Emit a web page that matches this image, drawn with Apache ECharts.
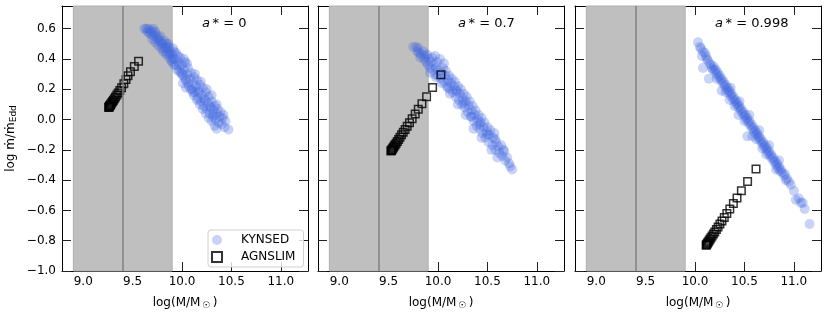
<!DOCTYPE html>
<html><head><meta charset="utf-8">
<script src="https://cdn.jsdelivr.net/npm/echarts@6/dist/echarts.min.js"></script>
<style>html,body{margin:0;padding:0;background:#fff}#c{width:829px;height:315px}</style>
</head><body><div id="c"></div>
<script>
// ---- data ----
const spinValues = ['0', '0.7', '0.998'];
const xTicks = [9.0, 9.5, 10.0, 10.5, 11.0];
const yTicks = [-1.0, -0.8, -0.6, -0.4, -0.2, 0.0, 0.2, 0.4, 0.6];
const shadeRange = [8.9, 9.9];
const shadeLine = 9.4;

const kynsed0 = [[9.62,0.60],[9.64,0.60],[9.66,0.60],[9.65,0.58],[9.67,0.57],[9.68,0.59],[9.69,0.56],[9.70,0.58],[9.70,0.53],[9.72,0.55],[9.73,0.51],[9.74,0.56],[9.75,0.53],[9.76,0.49],[9.77,0.52],[9.78,0.55],[9.79,0.47],[9.80,0.50],[9.81,0.45],[9.82,0.52],[9.83,0.48],[9.84,0.43],[9.85,0.47],[9.86,0.50],[9.87,0.41],[9.88,0.45],[9.89,0.39],[9.90,0.43],[9.91,0.47],[9.92,0.36],[9.93,0.40],[9.94,0.44],[9.95,0.33],[9.96,0.38],[9.97,0.35],[9.98,0.41],[9.99,0.31],[10.00,0.36],[10.01,0.29],[10.02,0.33],[10.03,0.38],[10.04,0.26],[10.05,0.30],[10.06,0.34],[10.07,0.22],[10.08,0.27],[10.09,0.31],[10.10,0.20],[10.11,0.24],[10.12,0.28],[10.13,0.18],[10.14,0.22],[10.15,0.26],[10.16,0.14],[10.17,0.19],[10.18,0.23],[10.19,0.12],[10.20,0.16],[10.21,0.21],[10.22,0.09],[10.23,0.13],[10.24,0.18],[10.25,0.07],[10.26,0.11],[10.27,0.15],[10.28,0.04],[10.29,0.08],[10.30,0.12],[10.31,0.02],[10.32,0.06],[10.33,0.09],[10.34,0.00],[10.35,0.04],[10.36,0.07],[10.37,-0.02],[10.38,0.02],[10.40,-0.03],[10.41,0.01],[10.43,-0.05],[10.35,-0.06],[10.33,-0.04],[10.47,-0.065],[10.30,-0.01],[10.27,0.01],[10.24,0.04],[10.21,0.07],[10.18,0.10],[10.15,0.13],[10.12,0.16],[10.09,0.20],[10.06,0.24],[10.03,0.27],[10.00,0.30],[9.97,0.32],[9.94,0.36],[9.91,0.40],[9.88,0.43],[9.85,0.44],[9.82,0.47],[9.79,0.51],[9.76,0.54],[9.73,0.58],[9.71,0.60],[9.87,0.48],[9.92,0.45],[10.02,0.40],[10.05,0.37],[10.13,0.30],[10.19,0.25],[10.25,0.20],[10.30,0.16],[10.35,0.10],[10.39,0.05],[10.42,0.03],[10.44,-0.01],[10.01,0.24],[10.04,0.21],[10.11,0.18],[10.16,0.18],[10.22,0.14],[10.28,0.09],[10.32,0.03],[9.96,0.42],[9.90,0.38],[9.84,0.50]];

const kynsed1 = [[9.75,0.48],[9.78,0.48],[9.80,0.47],[9.79,0.45],[9.81,0.44],[9.83,0.43],[9.82,0.41],[9.85,0.45],[9.86,0.40],[9.87,0.42],[9.88,0.38],[9.89,0.43],[9.90,0.36],[9.91,0.40],[9.92,0.34],[9.93,0.38],[9.94,0.41],[9.95,0.33],[9.96,0.36],[9.97,0.30],[9.98,0.34],[9.99,0.38],[10.00,0.29],[10.01,0.32],[10.02,0.40],[10.03,0.27],[10.04,0.31],[10.05,0.34],[10.06,0.25],[10.07,0.29],[10.08,0.32],[10.09,0.22],[10.10,0.26],[10.11,0.29],[10.12,0.20],[10.13,0.24],[10.14,0.27],[10.15,0.18],[10.16,0.22],[10.17,0.25],[10.18,0.15],[10.19,0.19],[10.20,0.22],[10.21,0.13],[10.22,0.17],[10.23,0.20],[10.24,0.10],[10.25,0.14],[10.26,0.17],[10.27,0.08],[10.28,0.12],[10.29,0.15],[10.30,0.05],[10.31,0.09],[10.32,0.12],[10.33,0.02],[10.34,0.06],[10.35,0.09],[10.36,-0.01],[10.37,0.03],[10.38,0.06],[10.39,-0.04],[10.40,0.00],[10.41,0.03],[10.42,-0.06],[10.43,-0.02],[10.44,0.01],[10.45,-0.09],[10.46,-0.05],[10.47,-0.02],[10.48,-0.12],[10.49,-0.08],[10.50,-0.05],[10.51,-0.15],[10.52,-0.10],[10.53,-0.07],[10.55,-0.17],[10.56,-0.12],[10.57,-0.09],[10.58,-0.20],[10.59,-0.15],[10.61,-0.18],[10.62,-0.22],[10.64,-0.17],[10.65,-0.24],[10.67,-0.21],[10.68,-0.27],[10.70,-0.25],[10.72,-0.29],[10.75,-0.33],[10.73,-0.31],[10.60,-0.25],[10.54,-0.20],[10.44,-0.12],[10.36,-0.06],[10.28,0.03],[10.20,0.10],[10.12,0.17],[10.04,0.24],[9.98,0.28],[9.92,0.31],[10.06,0.37],[9.97,0.42],[10.10,0.21],[10.18,0.19],[10.26,0.11],[10.34,0.02],[10.42,-0.03],[10.50,-0.10],[10.58,-0.13],[10.66,-0.20]];

const kynsed2 = [[10.03,0.51],[10.05,0.48],[10.06,0.47],[10.08,0.45],[10.07,0.42],[10.10,0.44],[10.11,0.42],[10.12,0.40],[10.08,0.34],[10.14,0.27],[10.13,0.39],[10.15,0.37],[10.16,0.36],[10.17,0.34],[10.18,0.33],[10.19,0.35],[10.20,0.32],[10.21,0.33],[10.22,0.30],[10.23,0.31],[10.24,0.28],[10.25,0.29],[10.26,0.26],[10.27,0.27],[10.28,0.24],[10.27,0.19],[10.29,0.25],[10.30,0.22],[10.31,0.23],[10.32,0.20],[10.33,0.21],[10.34,0.18],[10.35,0.19],[10.36,0.16],[10.37,0.17],[10.38,0.14],[10.39,0.15],[10.40,0.12],[10.41,0.13],[10.42,0.10],[10.43,0.11],[10.44,0.08],[10.45,0.09],[10.46,0.06],[10.47,0.07],[10.48,0.04],[10.49,0.05],[10.50,0.02],[10.51,0.03],[10.52,0.00],[10.53,0.01],[10.53,-0.11],[10.54,-0.02],[10.55,-0.01],[10.56,-0.04],[10.57,-0.03],[10.58,-0.06],[10.59,-0.05],[10.60,-0.08],[10.61,-0.07],[10.62,-0.10],[10.63,-0.09],[10.64,-0.12],[10.65,-0.11],[10.66,-0.14],[10.67,-0.13],[10.68,-0.16],[10.69,-0.15],[10.70,-0.18],[10.71,-0.17],[10.72,-0.20],[10.73,-0.19],[10.74,-0.22],[10.75,-0.21],[10.76,-0.24],[10.77,-0.23],[10.78,-0.26],[10.79,-0.25],[10.80,-0.28],[10.81,-0.27],[10.82,-0.30],[10.83,-0.29],[10.84,-0.32],[10.85,-0.31],[10.86,-0.34],[10.87,-0.33],[10.88,-0.35],[10.90,-0.37],[10.91,-0.36],[10.93,-0.39],[10.95,-0.41],[10.97,-0.43],[11.00,-0.47],[11.02,-0.53],[11.05,-0.52],[11.07,-0.55],[11.09,-0.55],[11.11,-0.59],[11.16,-0.69],[10.36,0.21],[10.45,0.12],[10.55,0.03],[10.65,-0.07],[10.75,-0.17],[10.85,-0.27],[10.35,0.13],[10.44,0.03],[10.58,-0.11],[10.68,-0.19],[10.22,0.27],[10.31,0.18],[10.40,0.09],[10.50,-0.01],[10.62,-0.13],[10.72,-0.23],[10.82,-0.33],[10.92,-0.40]];

const agnslim0 = [[9.560,0.385],[9.517,0.350],[9.478,0.315],[9.453,0.290],[9.433,0.265],[9.411,0.237],[9.388,0.210],[9.370,0.192],[9.354,0.176],[9.340,0.162],[9.327,0.149],[9.316,0.138],[9.306,0.128],[9.297,0.119],[9.289,0.111],[9.282,0.104],[9.276,0.098],[9.271,0.093],[9.267,0.089],[9.263,0.085],[9.260,0.082],[9.258,0.080]];
const agnslim1 = [[10.029,0.296],[9.945,0.211],[9.884,0.151],[9.837,0.105],[9.800,0.068],[9.769,0.036],[9.738,0.006],[9.711,-0.021],[9.688,-0.044],[9.667,-0.065],[9.648,-0.084],[9.631,-0.101],[9.615,-0.117],[9.601,-0.131],[9.588,-0.144],[9.576,-0.156],[9.566,-0.166],[9.557,-0.175],[9.549,-0.183],[9.542,-0.190],[9.536,-0.196],[9.531,-0.201],[9.527,-0.205],[9.523,-0.208]];
const agnslim2 = [[10.617,-0.327],[10.532,-0.409],[10.469,-0.470],[10.425,-0.518],[10.388,-0.555],[10.352,-0.590],[10.322,-0.620],[10.296,-0.646],[10.273,-0.669],[10.252,-0.690],[10.233,-0.709],[10.216,-0.726],[10.200,-0.742],[10.186,-0.756],[10.173,-0.769],[10.161,-0.781],[10.151,-0.791],[10.142,-0.800],[10.134,-0.808],[10.127,-0.815],[10.121,-0.821],[10.116,-0.826],[10.112,-0.830]];

const kynsedSets = [kynsed0, kynsed1, kynsed2];
const agnslimSets = [agnslim0, agnslim1, agnslim2];

// ---- layout ----
const FONT = 'DejaVu Sans';
const gridLefts = [62, 318, 575];
const GRID_W = 246, GRID_TOP = 6, GRID_H = 269;
const X_MIN = 8.785, X_MAX = 11.275, Y_MIN = -1.0, Y_MAX = 0.75;
const fmt = v => v.toFixed(1).replace('-', '\u2212');

const grids = [], xAxes = [], yAxes = [], series = [], graphics = [];
for (let i = 0; i < 3; i++) {
  grids.push({left: gridLefts[i], top: GRID_TOP, width: GRID_W, height: GRID_H, containLabel: false});
  const tick = {show: true, inside: true, length: 9, lineStyle: {color: '#222', width: 1}};
  const line = {show: true, onZero: false, lineStyle: {color: '#000', width: 1}};
  xAxes.push({
    type: 'value', gridIndex: i, position: 'bottom', min: X_MIN, max: X_MAX,
    axisLine: line, splitLine: {show: false},
    axisTick: Object.assign({customValues: xTicks}, tick),
    axisLabel: {customValues: xTicks, formatter: fmt, fontFamily: FONT, fontSize: 12, color: '#000', margin: 5},
    name: '{t|log(M/M}{s|\u2009\u2609}{t|\u2009)}', nameLocation: 'middle', nameGap: 25,
    nameTextStyle: {rich: {t: {fontFamily: FONT, fontSize: 12, color: '#000'}, s: {fontFamily: FONT, fontSize: 9, color: '#000', padding: [5, 0, 0, 0]}}}
  });
  xAxes.push({
    type: 'value', gridIndex: i, position: 'top', min: X_MIN, max: X_MAX,
    axisLine: line, splitLine: {show: false},
    axisTick: Object.assign({customValues: xTicks}, tick),
    axisLabel: {show: false}
  });
  const yMain = {
    type: 'value', gridIndex: i, position: 'left', min: Y_MIN, max: Y_MAX,
    axisLine: line, splitLine: {show: false},
    axisTick: Object.assign({customValues: yTicks}, tick),
    axisLabel: {show: i === 0, customValues: yTicks, formatter: fmt, fontFamily: FONT, fontSize: 12, color: '#000', margin: 6}
  };
  if (i === 0) {
    yMain.name = '{t|log \u1E41/\u1E41}{s|Edd}';
    yMain.nameLocation = 'middle';
    yMain.nameGap = 44;
    yMain.nameTextStyle = {rich: {t: {fontFamily: FONT, fontSize: 12, color: '#000'}, s: {fontFamily: FONT, fontSize: 9, color: '#000', padding: [5, 0, 0, 0]}}};
  }
  yAxes.push(yMain);
  yAxes.push({
    type: 'value', gridIndex: i, position: 'right', min: Y_MIN, max: Y_MAX,
    axisLine: line, splitLine: {show: false},
    axisTick: Object.assign({customValues: yTicks}, tick),
    axisLabel: {show: false}
  });

  series.push({
    type: 'line', xAxisIndex: 2 * i, yAxisIndex: 2 * i, data: [], silent: true, z: 1,
    markArea: {silent: true, itemStyle: {color: '#bfbfbf', borderColor: '#b0b0b0', borderWidth: 1},
      data: [[{xAxis: shadeRange[0]}, {xAxis: shadeRange[1]}]]},
    markLine: {silent: true, symbol: 'none', label: {show: false},
      lineStyle: {color: '#808080', width: 1.5, type: 'solid'},
      data: [{xAxis: shadeLine}]}
  });
  series.push({
    name: 'KYNSED', type: 'scatter', xAxisIndex: 2 * i, yAxisIndex: 2 * i, z: 2,
    symbol: 'circle', symbolSize: 10, data: kynsedSets[i],
    itemStyle: {color: 'rgba(65,105,225,0.36)'}
  });
  series.push({
    name: 'AGNSLIM', type: 'scatter', xAxisIndex: 2 * i, yAxisIndex: 2 * i, z: 3,
    symbol: 'rect', symbolSize: 7.5, data: agnslimSets[i],
    itemStyle: {color: 'rgba(255,255,255,0)', borderColor: '#000', borderWidth: 1.5}
  });

  graphics.push({
    type: 'text', left: gridLefts[i] + 140, top: 17, z: 10,
    style: {
      text: '{i|a}{n|\u2009* = ' + spinValues[i] + '}',
      rich: {i: {fontFamily: FONT, fontStyle: 'italic', fontSize: 13, fill: '#000'},
             n: {fontFamily: FONT, fontSize: 13, fill: '#000'}}
    }
  });
}

const chart = echarts.init(document.getElementById('c'), null, {renderer: 'canvas'});
chart.setOption({
  animation: false,
  backgroundColor: '#fff',
  grid: grids, xAxis: xAxes, yAxis: yAxes, series: series, graphic: graphics,
  legend: {
    data: ['KYNSED', 'AGNSLIM'], orient: 'vertical', left: 208, top: 230,
    padding: [4, 8, 4, 3], itemGap: 5, itemWidth: 10, itemHeight: 10,
    backgroundColor: 'rgba(255,255,255,0.8)', borderColor: '#d0d0d0', borderWidth: 1, borderRadius: 3,
    textStyle: {fontFamily: FONT, fontSize: 12, color: '#000', padding: [0, 0, 0, 14]}
  }
});
</script></body></html>
